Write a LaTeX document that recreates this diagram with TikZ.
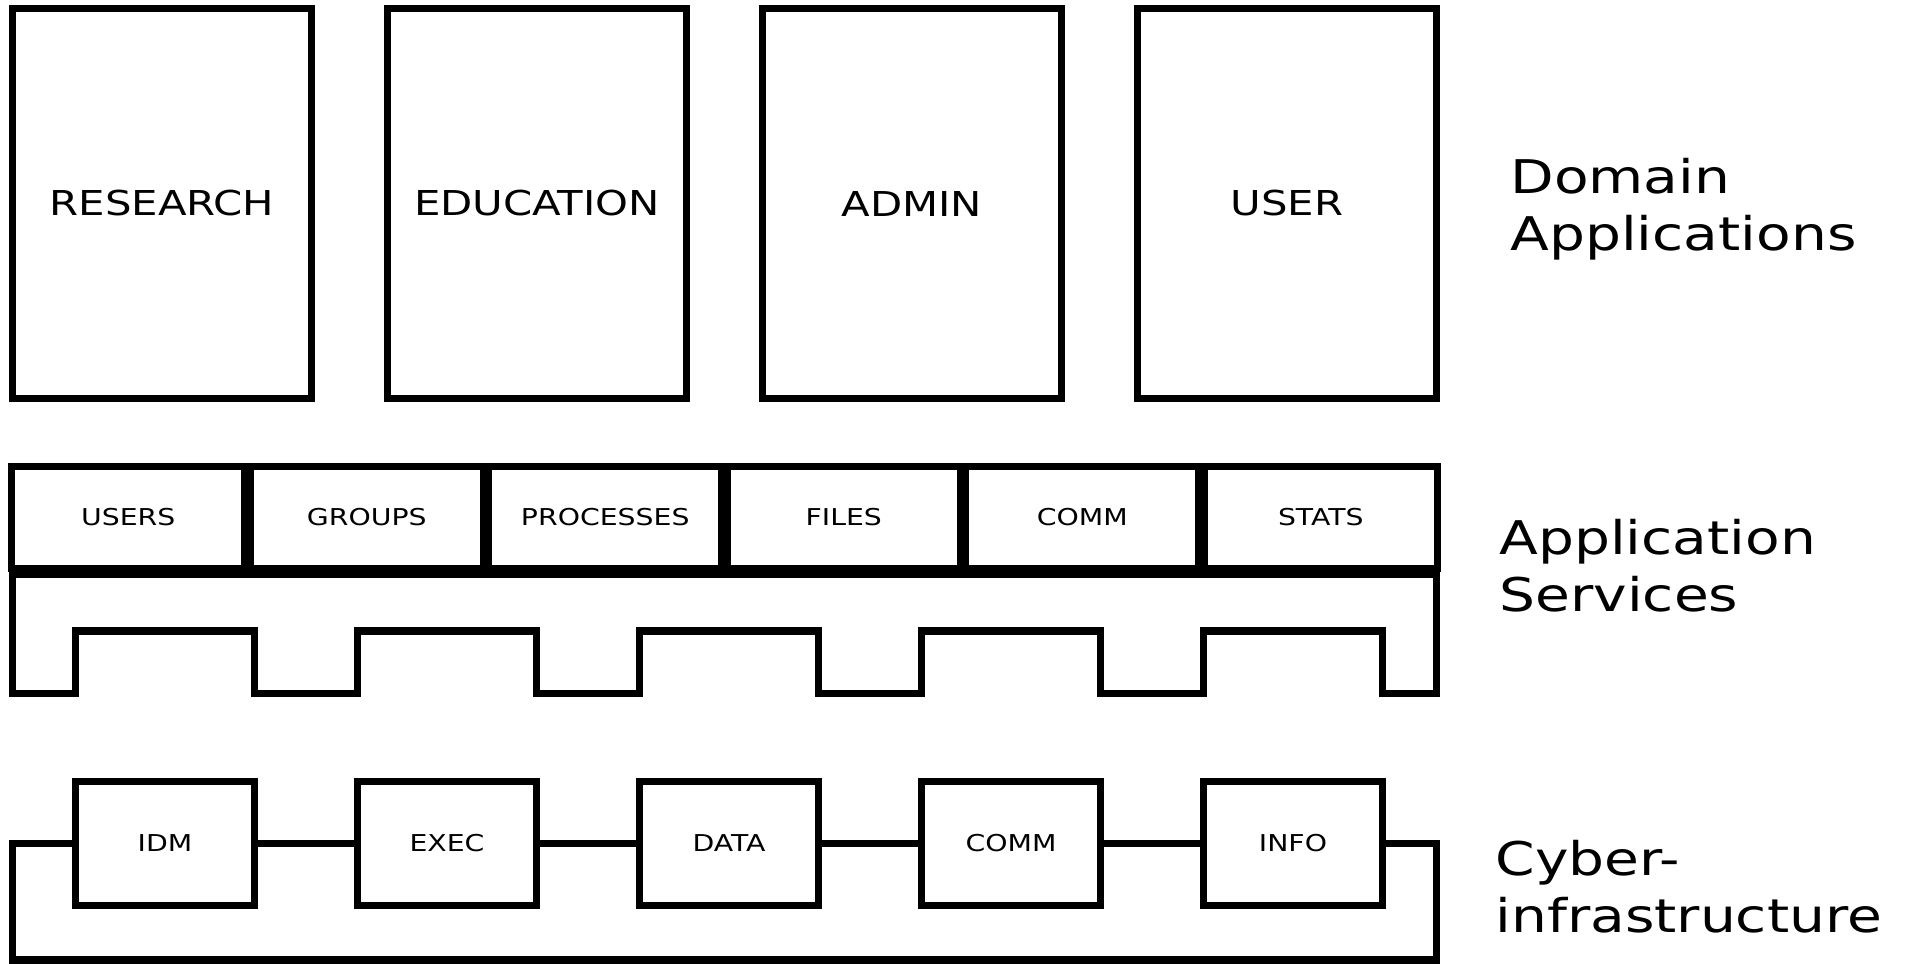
\documentclass[tikz,border=0pt]{standalone}
\usepackage{fontspec}
\setmainfont{DejaVu Sans}[FakeStretch=1.22]

\begin{document}
\begin{tikzpicture}[x=0.01cm, y=-0.01cm, line width=2pt,
  appbox/.style={draw, rectangle, minimum width=2.99cm, minimum height=3.89cm, font=\fontsize{9.75}{12}\selectfont},
  svcbox/.style={draw, rectangle, minimum width=2.325cm, minimum height=1.01cm, font=\fontsize{6.6}{8}\selectfont},
  cibox/.style={draw, rectangle, minimum width=1.79cm, minimum height=1.235cm, font=\fontsize{6.6}{8}\selectfont},
  layerlabel/.style={anchor=base west, align=left, inner sep=0pt, font=\fontsize{13.2}{16.2}\selectfont}]
\useasboundingbox (0,0) rectangle (1905,963);

% Domain applications
\node[appbox] (research) at (162,203.5) {RESEARCH};
\node[appbox] (education) at (537,203.5) {EDUCATION};
\node[appbox] (admin) at (912,203.5) {ADMIN};
\node[appbox] (user) at (1287,203.5) {USER};
\node[layerlabel] (domlabel) at (1507,250) {Domain\\Applications};

% Application services
\node[svcbox] (users) at (128.25,517.5) {USERS};
\node[svcbox] (groups) at (366.75,517.5) {GROUPS};
\node[svcbox] (procs) at (605.25,517.5) {PROCESSES};
\node[svcbox] (files) at (843.75,517.5) {FILES};
\node[svcbox] (svccomm) at (1082.25,517.5) {COMM};
\node[svcbox] (stats) at (1320.75,517.5) {STATS};
\draw (12.5,574) -- (1436.5,574) -- (1436.5,693.5)
  -- (1382.5,693.5) -- (1382.5,631) -- (1203.5,631) -- (1203.5,693.5)
  -- (1100.5,693.5) -- (1100.5,631) -- (921.5,631) -- (921.5,693.5)
  -- (818.5,693.5) -- (818.5,631) -- (639.5,631) -- (639.5,693.5)
  -- (536.5,693.5) -- (536.5,631) -- (357.5,631) -- (357.5,693.5)
  -- (254.5,693.5) -- (254.5,631) -- (75.5,631) -- (75.5,693.5)
  -- (12.5,693.5) -- cycle;
\node[layerlabel] (svclabel) at (1496,611) {Application\\Services};

% Cyberinfrastructure
\node[cibox] (idm) at (165,843.25) {IDM};
\node[cibox] (exec) at (447,843.25) {EXEC};
\node[cibox] (data) at (729,843.25) {DATA};
\node[cibox] (cicomm) at (1011,843.25) {COMM};
\node[cibox] (info) at (1293,843.25) {INFO};
\draw (idm) -- (exec) -- (data) -- (cicomm) -- (info);
\coordinate (busnw) at (12.5,843.25);
\coordinate (bussw) at (12.5,960);
\coordinate (busse) at (1436.5,960);
\coordinate (busne) at (1436.5,843.25);
\draw (idm.west) -- (busnw) -- (bussw) -- (busse) -- (busne) -- (info.east);
\node[layerlabel] (cilabel) at (1492,932) {Cyber-\\infrastructure};
\end{tikzpicture}
\end{document}
